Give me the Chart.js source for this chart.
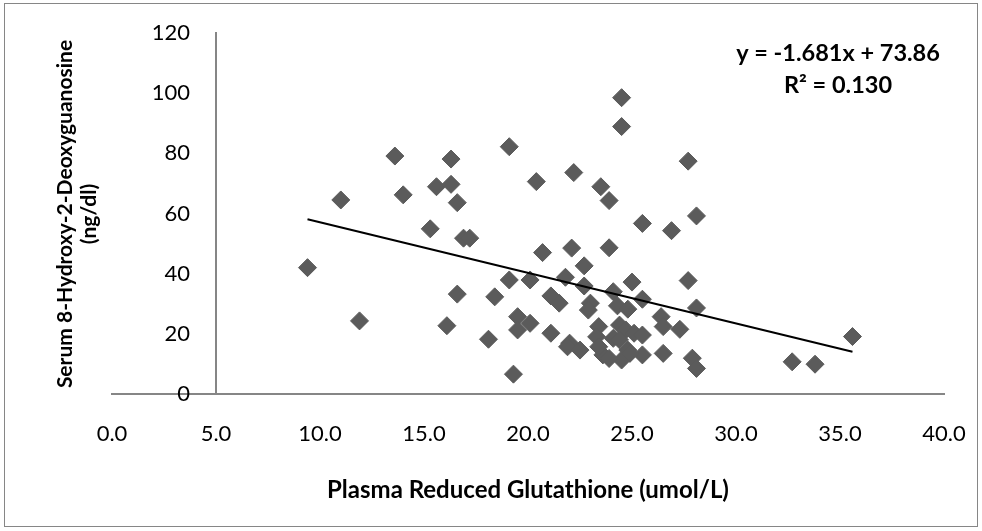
<!DOCTYPE html>
<html>
<head>
<meta charset="utf-8">
<script src="https://cdn.jsdelivr.net/npm/chart.js@4/dist/chart.umd.min.js"></script>
<style>
  html, body { margin: 0; padding: 0; background: #fff; }
  #wrap { position: relative; width: 982px; height: 531px; }
</style>
</head>
<body>
<div id="wrap"><canvas id="c" width="982" height="531"></canvas></div>
<script>
// ---- data ----
const glutathione = [
  9.4, 11.0, 11.9, 13.6, 14.0, 15.3, 15.6, 16.3, 16.3, 16.6, 16.9, 17.2, 16.6, 16.1, 18.4, 18.1,
  19.1, 19.3, 19.1, 20.1, 19.5, 20.1, 19.5, 20.4, 20.7, 21.1, 21.5, 21.1, 22.1, 22.2, 21.8, 22.7,
  22.7, 23.0, 22.9, 22.0, 21.9, 22.5, 23.4, 23.3, 23.6, 23.5, 23.9, 23.9, 24.1, 24.3, 24.8, 24.5,
  24.5, 25.0, 25.5, 25.5, 26.9, 26.4, 26.5, 27.3, 26.5, 27.7, 27.7, 28.1, 28.1, 27.9, 28.1, 32.7,
  33.8, 35.6, 24.5, 24.8, 25.5, 24.4, 24.7, 25.1, 25.5, 24.9, 23.9, 24.1, 23.4, 24.4
];
const deoxyguanosine = [
  42.0, 64.5, 24.3, 79.1, 66.2, 54.9, 68.9, 69.7, 78.1, 63.6, 51.8, 51.8, 33.2, 22.7, 32.3, 18.2,
  82.2, 6.6, 37.9, 37.9, 25.7, 23.5, 21.3, 70.6, 47.0, 32.6, 30.2, 20.2, 48.5, 73.6, 38.8, 42.6,
  35.9, 30.2, 27.9, 16.9, 15.7, 14.6, 22.4, 19.0, 13.0, 68.9, 64.3, 48.6, 34.0, 29.3, 28.2, 98.5,
  88.9, 37.2, 31.5, 56.7, 54.3, 25.7, 22.4, 21.5, 13.5, 77.4, 37.7, 59.2, 28.6, 11.9, 8.5, 10.7,
  9.9, 19.1, 11.3, 14.6, 13.0, 22.9, 21.3, 20.2, 19.6, 13.5, 11.8, 18.5, 15.7, 18.0
];
const xTicks = [0, 5, 10, 15, 20, 25, 30, 35, 40];
const yTicks = [0, 20, 40, 60, 80, 100, 120];
const trendSlope = -1.681;
const trendIntercept = 73.86;
const equationLines = ['y = -1.681x + 73.86', 'R\u00B2 = 0.130'];
const xTitle = 'Plasma Reduced Glutathione (umol/L)';
const yTitleLines = ['Serum 8-Hydroxy-2-Deoxyguanosine', '(ng/dl)'];

const points = glutathione.map((x, i) => ({ x: x, y: deoxyguanosine[i] }));
const xMin = Math.min(...glutathione), xMax = Math.max(...glutathione);
const trend = [xMin, xMax].map(x => ({ x: x, y: trendSlope * x + trendIntercept }));

const AXIS = '#868686';

const decor = {
  id: 'decor',
  beforeDraw(chart) {
    const ctx = chart.ctx;
    ctx.save();
    ctx.fillStyle = '#fff';
    ctx.fillRect(0, 0, chart.width, chart.height);
    ctx.strokeStyle = AXIS;
    ctx.lineWidth = 1;
    ctx.strokeRect(4.5, 3.5, 973, 523);
    ctx.restore();
  },
  afterDraw(chart) {
    const ctx = chart.ctx;
    const xs = chart.scales.x;
    const ys = chart.scales.y;
    ctx.save();
    ctx.fillStyle = '#000';
    // y tick labels, placed through the y scale
    ctx.textAlign = 'right';
    ctx.textBaseline = 'middle';
    ctx.font = '22px Lato';
    const labelRight = xs.getPixelForValue(5) - 26;
    yTicks.forEach(v => ctx.fillText(String(v), labelRight, ys.getPixelForValue(v)));
    ctx.textAlign = 'center';
    // x title
    ctx.font = 'bold 24px Lato';
    ctx.fillText(xTitle, (xs.left + xs.right) / 2, 490);
    // equation
    ctx.font = 'bold 23.5px Lato';
    ctx.fillText(equationLines[0], 838, 53);
    ctx.fillText(equationLines[1], 838, 85);
    // y title (rotated)
    ctx.font = 'bold 21px Lato';
    [65, 89].forEach((cx, i) => {
      ctx.save();
      ctx.translate(cx, 214);
      ctx.rotate(-Math.PI / 2);
      ctx.fillText(yTitleLines[i], 0, 0);
      ctx.restore();
    });
    ctx.restore();
  }
};

new Chart(document.getElementById('c'), {
  type: 'scatter',
  data: {
    datasets: [
      {
        label: 'data',
        data: points,
        pointStyle: 'rectRot',
        pointRadius: 9,
        pointBackgroundColor: '#5b5b5b',
        pointBorderColor: '#5b5b5b',
        pointBorderWidth: 1,
        order: 2
      },
      {
        type: 'line',
        label: 'trend',
        data: trend,
        borderColor: '#000',
        borderWidth: 2,
        pointRadius: 0,
        fill: false,
        order: 1
      }
    ]
  },
  plugins: [decor],
  options: {
    responsive: false,
    animation: false,
    devicePixelRatio: 1,
    layout: { padding: { left: 112, right: 38, top: 33, bottom: 0 } },
    plugins: { legend: { display: false }, tooltip: { enabled: false } },
    scales: {
      x: {
        type: 'linear',
        position: 'bottom',
        min: xTicks[0],
        max: xTicks[xTicks.length - 1],
        afterBuildTicks: s => { s.ticks = xTicks.map(v => ({ value: v })); },
        afterFit: s => { s.height = 137; s.paddingLeft = 0; s.paddingRight = 0; },
        grid: { display: false, drawTicks: false },
        border: { display: true, color: AXIS, width: 2 },
        ticks: {
          padding: 27,
          color: '#000',
          font: { family: 'Lato', size: 22 },
          maxRotation: 0,
          autoSkip: false,
          callback: v => Number(v).toFixed(1)
        }
      },
      y: {
        type: 'linear',
        position: { x: 5 },
        min: yTicks[0],
        max: yTicks[yTicks.length - 1],
        afterBuildTicks: s => { s.ticks = yTicks.map(v => ({ value: v })); },
        afterFit: s => { s.paddingTop = 0; s.paddingBottom = 0; },
        grid: { display: false, drawTicks: false },
        border: { display: true, color: AXIS, width: 2 },
        ticks: { display: false }
      }
    }
  }
});
</script>
</body>
</html>
